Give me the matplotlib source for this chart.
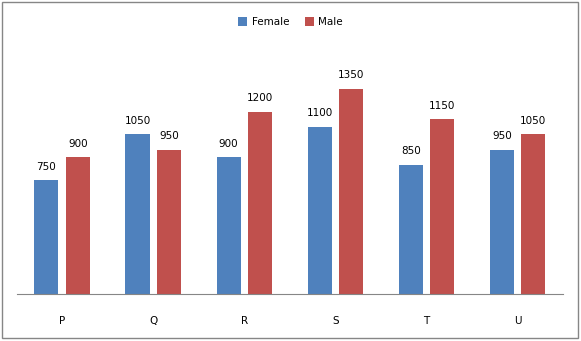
import numpy as np
import matplotlib.pyplot as plt
from matplotlib.patches import Rectangle

categories = ['P', 'Q', 'R', 'S', 'T', 'U']
female = [750, 1050, 900, 1100, 850, 950]
male = [900, 950, 1200, 1350, 1150, 1050]


def main():
    fig = plt.figure(figsize=(5.81, 3.41), dpi=100)
    ax = fig.add_axes([0.0285, 0.1378, 0.9405, 0.6687])

    x = np.arange(len(categories))
    w = 0.264
    off = 0.172
    b1 = ax.bar(x - off, female, w, color='#4F81BD', label='Female')
    b2 = ax.bar(x + off, male, w, color='#C0504D', label='Male')

    for bars, vals in ((b1, female), (b2, male)):
        for rect, v in zip(bars, vals):
            ax.text(rect.get_x() + rect.get_width() / 2, v + 55, str(v),
                    ha='center', va='bottom', fontsize=7.5)

    ax.set_xlim(-0.5, len(categories) - 0.5)
    ax.set_ylim(0, 1500)
    ax.set_xticks(x)
    ax.set_xticklabels(categories, fontsize=7.5)
    ax.tick_params(axis='x', length=0, pad=16)
    ax.set_yticks([])
    for s in ['top', 'right', 'left']:
        ax.spines[s].set_visible(False)
    ax.spines['bottom'].set_color('#868686')

    fig.legend(loc='upper center', bbox_to_anchor=(0.5, 0.978), ncol=2,
               frameon=False, fontsize=7.5, handlelength=0.9, handleheight=0.9,
               columnspacing=1.5, handletextpad=0.4)

    fig.patches.append(Rectangle((0.004, 0.008), 0.99, 0.985, transform=fig.transFigure,
                                 fill=False, edgecolor='#868686', linewidth=1))

    fig.savefig('out.png', dpi=100)


if __name__ == "__main__":
    main()
